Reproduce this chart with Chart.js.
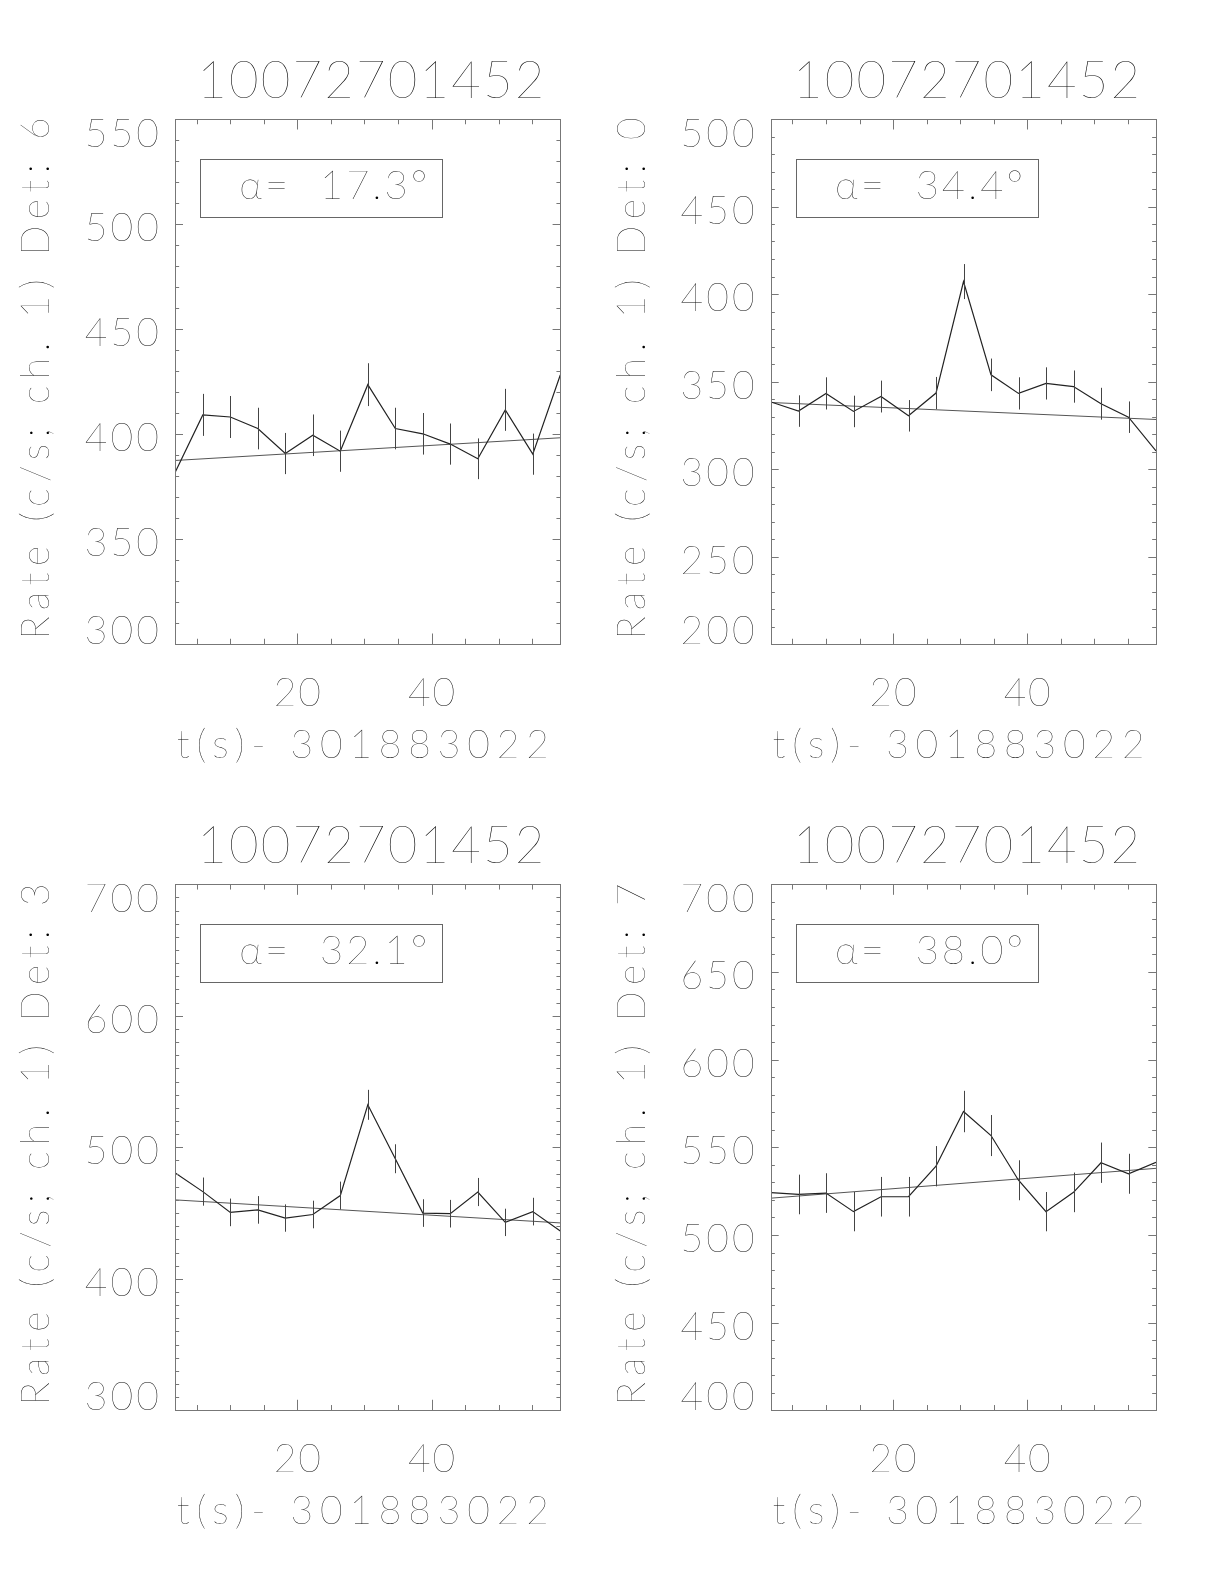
<!DOCTYPE html>
<html lang="en">
<head>
<meta charset="UTF-8">
<title>Detector rates | 10072701452</title>
<script src="https://cdn.jsdelivr.net/npm/chart.js"></script>
<style>
  * { box-sizing: border-box; }
  body { margin: 0; background: #fff; }
  .page { position: relative; width: 1224px; height: 1584px; background: #fff; }
  .page canvas { position: absolute; }
</style>
</head>
<body>
<div class="page">
  <canvas id="det6" width="612" height="792" style="left:0;top:0"></canvas>
  <canvas id="det0" width="612" height="792" style="left:612px;top:0"></canvas>
  <canvas id="det3" width="612" height="792" style="left:0;top:792px"></canvas>
  <canvas id="det7" width="612" height="792" style="left:612px;top:792px"></canvas>
</div>

<script>
  const burstName = '10072701452';
  const timeTitle = 't(s)- 301883022';

  // bin centres, seconds after 301883022
  const times = [1.8, 5.9, 10.0, 14.1, 18.2, 22.3, 26.4, 30.5, 34.6, 38.7, 42.8, 46.9, 51.0, 55.1, 59.2];
  const fitTimes = [1.8, 59.2];
  const xTickLabels = [20, 40];

  // Det 6
  const det6Rate = [381.9, 409.1, 408.1, 402.6, 390.7, 399.4, 391.8, 423.5, 402.6, 400.1, 395.2, 388.2, 411.5, 390.4, 428.1];
  const det6Err  = [9.6, 10.0, 10.0, 9.9, 9.8, 9.9, 9.8, 10.2, 9.9, 9.9, 9.8, 9.7, 10.0, 9.8, 10.2];
  const det6Fit  = [387.4, 398.2];
  const det6Ticks = [300, 350, 400, 450, 500, 550];

  // Det 0
  const det0Rate = [338.3, 333.1, 343.2, 332.9, 341.4, 330.4, 343.4, 407.1, 353.8, 343.2, 348.9, 347.1, 337.3, 329.6, 310.3];
  const det0Err  = [9.1, 9.0, 9.2, 9.0, 9.1, 9.0, 9.2, 10.0, 9.3, 9.2, 9.2, 9.2, 9.1, 9.0, 8.7];
  const det0Fit  = [338.0, 328.3];
  const det0Ticks = [200, 250, 300, 350, 400, 450, 500];

  // Det 3
  const det3Rate = [480.5, 466.3, 450.5, 452.4, 446.2, 448.9, 463.3, 532.3, 491.3, 450.0, 449.5, 466.0, 442.9, 451.1, 436.4];
  const det3Err  = [10.8, 10.7, 10.5, 10.5, 10.4, 10.5, 10.6, 11.4, 11.0, 10.5, 10.5, 10.7, 10.4, 10.5, 10.3];
  const det3Fit  = [460.0, 442.5];
  const det3Ticks = [300, 400, 500, 600, 700];

  // Det 7
  const det7Rate = [524.1, 523.1, 523.9, 513.3, 521.8, 521.8, 539.2, 570.4, 556.7, 531.2, 513.3, 524.3, 541.2, 534.9, 541.4];
  const det7Err  = [11.3, 11.3, 11.3, 11.2, 11.3, 11.3, 11.5, 11.8, 11.7, 11.4, 11.2, 11.3, 11.5, 11.4, 11.5];
  const det7Fit  = [521.0, 538.0];
  const det7Ticks = [400, 450, 500, 550, 600, 650, 700];

  const panels = [
    { id: 'det6', det: 6, alpha: '17.3', rate: det6Rate, err: det6Err, fit: det6Fit, ticks: det6Ticks,
      pad: { left: 175.3, right: 51.7, top: 119, bottom: 148 } },
    { id: 'det0', det: 0, alpha: '34.4', rate: det0Rate, err: det0Err, fit: det0Fit, ticks: det0Ticks,
      pad: { left: 159, right: 68, top: 119, bottom: 148 } },
    { id: 'det3', det: 3, alpha: '32.1', rate: det3Rate, err: det3Err, fit: det3Fit, ticks: det3Ticks,
      pad: { left: 175.3, right: 51.7, top: 92.3, bottom: 173.7 } },
    { id: 'det7', det: 7, alpha: '38.0', rate: det7Rate, err: det7Err, fit: det7Fit, ticks: det7Ticks,
      pad: { left: 159, right: 68, top: 92.3, bottom: 173.7 } }
  ];

  const FONT = 'Lato, "DejaVu Sans", sans-serif';
  const WEIGHT = 200;
  const TEXT = '#000';
  const CAP = 0.72; // cap height / em

  // opt.width: spread the letters so the string takes that width
  function drawText(ctx, str, x, y, size, opt = {}) {
    ctx.save();
    ctx.translate(x, y);
    if (opt.rotate) ctx.rotate(-Math.PI / 2);
    ctx.font = `${WEIGHT} ${size}px ${FONT}`;
    let sp = opt.spacing || 0;
    if (opt.width) {
      ctx.letterSpacing = '0px';
      const natural = ctx.measureText(str).width;
      sp = (opt.width - natural) / Math.max(str.length - 1, 1);
    }
    ctx.letterSpacing = sp + 'px';
    ctx.fillStyle = TEXT;
    ctx.textBaseline = 'alphabetic';
    const total = ctx.measureText(str).width - sp;
    const align = opt.align || 'left';
    let x0 = 0;
    if (align === 'center') x0 = -total / 2;
    else if (align === 'right') x0 = -total;
    ctx.textAlign = 'left';
    ctx.fillText(str, x0, 0);
    ctx.restore();
  }

  // IDL-ish box axes: inward ticks on all sides, clamped labels, error bars
  const idlAxes = {
    id: 'idlAxes',
    afterDatasetsDraw(chart, args, p) {
      const ctx = chart.ctx, a = chart.chartArea;
      const xs = chart.scales.x, ys = chart.scales.y;
      ctx.save();
      ctx.beginPath();
      ctx.rect(a.left, a.top, a.right - a.left, a.bottom - a.top);
      ctx.clip();
      ctx.strokeStyle = '#444';
      ctx.lineWidth = 1;
      p.rate.forEach((v, i) => {
        const x = Math.round(xs.getPixelForValue(times[i])) + 0.5;
        ctx.beginPath();
        ctx.moveTo(x, ys.getPixelForValue(v - p.err[i]));
        ctx.lineTo(x, ys.getPixelForValue(v + p.err[i]));
        ctx.stroke();
      });
      ctx.restore();
    },
    afterDraw(chart, args, p) {
      const ctx = chart.ctx, a = chart.chartArea;
      const xs = chart.scales.x, ys = chart.scales.y;
      const w = a.right - a.left, h = a.bottom - a.top;

      ctx.save();
      ctx.strokeStyle = '#777';
      ctx.lineWidth = 1;
      ctx.strokeRect(Math.round(a.left) + 0.5, Math.round(a.top) + 0.5, Math.round(w), Math.round(h));

      // x ticks every 5 s, major every 20 s
      const xMajor = 0.02 * h, xMinor = xMajor / 2;
      ctx.beginPath();
      for (let t = 5; t < xs.max; t += 5) {
        if (t <= xs.min) continue;
        const x = Math.round(xs.getPixelForValue(t)) + 0.5;
        const len = t % 20 === 0 ? xMajor : xMinor;
        ctx.moveTo(x, a.bottom); ctx.lineTo(x, a.bottom - len);
        ctx.moveTo(x, a.top); ctx.lineTo(x, a.top + len);
      }
      // y ticks every 10, major at labelled values
      const yMajor = 0.02 * w, yMinor = yMajor / 2;
      for (let v = ys.min + 10; v < ys.max; v += 10) {
        const y = Math.round(ys.getPixelForValue(v)) + 0.5;
        const len = p.ticks.includes(v) ? yMajor : yMinor;
        ctx.moveTo(a.left, y); ctx.lineTo(a.left + len, y);
        ctx.moveTo(a.right, y); ctx.lineTo(a.right - len, y);
      }
      ctx.stroke();
      ctx.restore();

      // y tick labels, kept inside the box height like IDL does
      const ySize = 39, cap = ySize * CAP;
      p.ticks.forEach(v => {
        let c = ys.getPixelForValue(v) + 3;
        c = Math.min(Math.max(c, a.top + cap / 2), a.bottom - cap / 2);
        drawText(ctx, String(v), a.left - 16.5, c + cap / 2, ySize, { align: 'right', width: 74 });
      });

      // x tick labels
      xTickLabels.forEach(t => {
        drawText(ctx, String(t), xs.getPixelForValue(t), a.bottom + 62, ySize, { align: 'center', width: 47 });
      });

      // axis titles
      drawText(ctx, timeTitle, (a.left + a.right) / 2 - 5, a.bottom + 114, ySize,
        { align: 'center', width: 372 });
      drawText(ctx, 'Rate (c/s; ch. 1) Det: ' + p.det, a.left - 140 + cap / 2, (a.top + a.bottom) / 2 - 3, ySize,
        { align: 'center', rotate: true, width: 522 });

      // plot title
      drawText(ctx, burstName, (a.left + a.right) / 2 + 3, a.top - 21, 51, { align: 'center', width: 347 });

      // angle box
      ctx.save();
      ctx.strokeStyle = '#666';
      ctx.lineWidth = 1;
      ctx.strokeRect(Math.round(a.left + 25) + 0.5, Math.round(a.top + 39.5) + 0.5, 242, 58);
      ctx.restore();
      drawText(ctx, 'α=  ' + p.alpha + '°', a.left + 64, a.top + 80, 40, { width: 188 });
    }
  };

  panels.forEach(p => {
    const ctx = document.getElementById(p.id).getContext('2d');
    new Chart(ctx, {
      type: 'line',
      data: {
        datasets: [
          {
            data: times.map((t, i) => ({ x: t, y: p.rate[i] })),
            borderColor: '#222',
            borderWidth: 1.2,
            pointRadius: 0,
            tension: 0
          },
          {
            data: fitTimes.map((t, i) => ({ x: t, y: p.fit[i] })),
            borderColor: '#555',
            borderWidth: 1,
            pointRadius: 0,
            tension: 0
          }
        ]
      },
      options: {
        responsive: false,
        animation: false,
        layout: { padding: p.pad },
        scales: {
          x: { type: 'linear', min: fitTimes[0], max: fitTimes[1], display: false },
          y: { type: 'linear', min: p.ticks[0], max: p.ticks[p.ticks.length - 1], display: false }
        },
        plugins: {
          legend: { display: false },
          tooltip: { enabled: false },
          idlAxes: p
        }
      },
      plugins: [idlAxes]
    });
  });
</script>
</body>
</html>
